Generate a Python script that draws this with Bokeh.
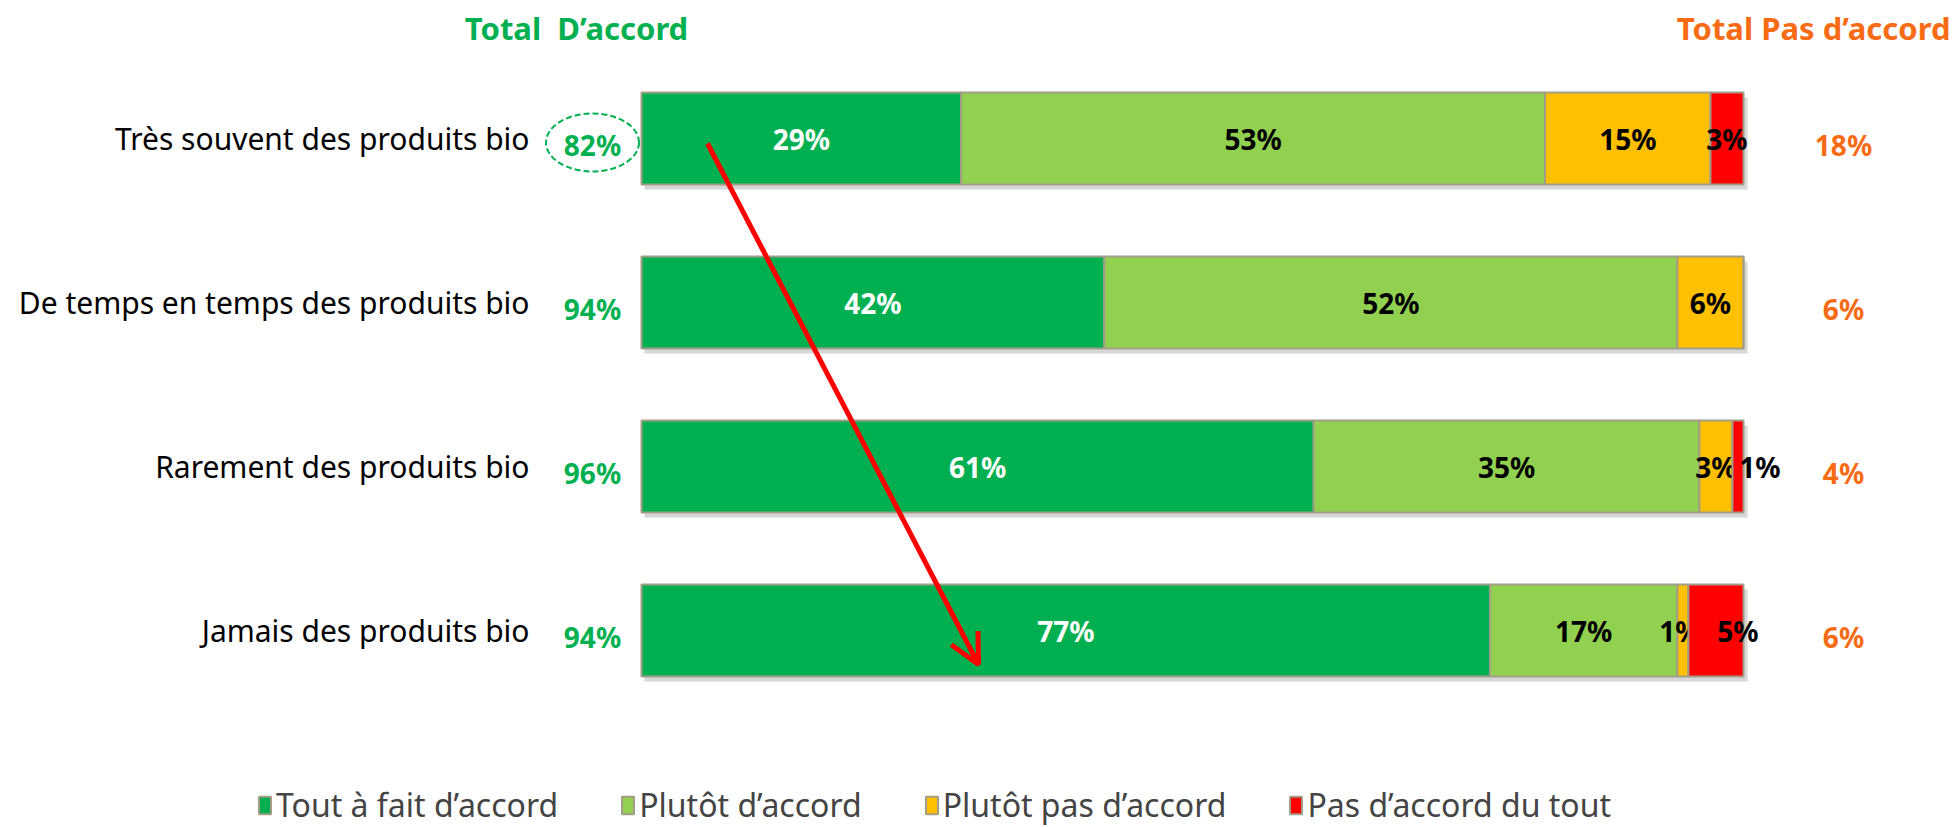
from bokeh.plotting import figure
from bokeh.models import (Range1d, ColumnDataSource, Legend, LegendItem, Arrow, OpenHead)
from bokeh.core.properties import value
from bokeh.embed import file_html
from bokeh.resources import INLINE

# ---------------- data ----------------
categories = ["Très souvent des produits bio",
              "De temps en temps des produits bio",
              "Rarement des produits bio",
              "Jamais des produits bio"]
series_names = ["Tout à fait d’accord", "Plutôt d’accord",
                "Plutôt pas d’accord", "Pas d’accord du tout"]
tout_a_fait = [29, 42, 61, 77]
plutot_accord = [53, 52, 35, 17]
plutot_pas = [15, 6, 3, 1]
pas_du_tout = [3, 0, 1, 5]
total_accord = [82, 94, 96, 94]
total_pas = [18, 6, 4, 6]
header_left = "Total\u00a0\u00a0D’accord"
header_right = "Total Pas d’accord"

# ---------------- layout / style ----------------
W, H = 1952, 826
BAR_X0_PX, BAR_X100_PX = 641, 1743      # canvas px of 0% and 100%
ROW0_PX, ROW_STEP_PX = 138, 164         # canvas px of first row centre, row spacing
FONT = "Noto Sans"
GREEN_TXT = "#00B050"
ORANGE_TXT = "#F96B14"
colors = ["#00B050", "#92D050", "#FFC000", "#FF0000"]
label_colors = ["white", "black", "black", "black"]
BORDER = "#A39D87"

ux = 100.0 / (BAR_X100_PX - BAR_X0_PX)   # data units per px
uy = 1.0 / ROW_STEP_PX
n = len(categories)
x0 = -BAR_X0_PX * ux
x1 = x0 + W * ux
y1 = (n - 1) + ROW0_PX * uy
y0 = y1 - H * uy

def px_x(px):
    return x0 + px * ux

def px_y(py):
    return y1 - py * uy

p = figure(width=W, height=H, x_range=Range1d(x0, x1), y_range=Range1d(y0, y1),
           output_backend="svg", toolbar_location=None, min_border=0,
           x_axis_type=None, y_axis_type=None)
p.grid.visible = False
p.outline_line_color = None

ys = [n - 1 - i for i in range(n)]
BAR_H = 0.56

# shadow
p.hbar(y=[y - 5 * uy for y in ys], left=[3 * ux] * n, right=[100 + 4 * ux] * n,
       height=BAR_H, fill_color="#BDBDBD", fill_alpha=0.6, line_color=None)

series = [tout_a_fait, plutot_accord, plutot_pas, pas_du_tout]
renderers = []
left = [0.0] * n
nudges = {(2, 3): 22, (3, 2): -3, (3, 3): 22}
for k, vals in enumerate(series):
    right = [l + v for l, v in zip(left, vals)]
    src = ColumnDataSource(dict(y=ys, left=left, right=right))
    r = p.hbar(y="y", left="left", right="right", height=BAR_H, source=src,
               fill_color=colors[k], line_color=BORDER, line_width=2)
    renderers.append(r)
    lx, ly, lt, lo = [], [], [], []
    for i, v in enumerate(vals):
        if v > 0:
            lx.append((left[i] + right[i]) / 2)
            ly.append(ys[i])
            lt.append(f"{v}%")
            lo.append(nudges.get((i, k), 0))
    p.text(x="x", y="y", text="t", x_offset="o",
           source=ColumnDataSource(dict(x=lx, y=ly, t=lt, o=lo)),
           text_align="center", text_baseline="middle",
           text_font=value(FONT), text_font_style="bold",
           text_font_size="28px", text_color=label_colors[k])
    left = right

# category labels
p.text(x=[px_x(529)] * n, y=ys, text=categories, text_align="right",
       text_baseline="middle", text_font=value(FONT), text_font_size="30px",
       text_color="black")

# totals
p.text(x=[px_x(592)] * n, y=ys, text=[f"{v}%" for v in total_accord],
       text_align="center", text_baseline="middle", y_offset=6,
       text_font=value(FONT), text_font_style="bold", text_font_size="28px",
       text_color=GREEN_TXT)
p.text(x=[px_x(1843)] * n, y=ys, text=[f"{v}%" for v in total_pas],
       text_align="center", text_baseline="middle", y_offset=6,
       text_font=value(FONT), text_font_style="bold", text_font_size="28px",
       text_color=ORANGE_TXT)

# headers
p.text(x=[px_x(576)], y=[px_y(27)], text=[header_left], text_align="center",
       text_baseline="middle", text_font=value(FONT), text_font_style="bold",
       text_font_size="31px", text_color=GREEN_TXT)
p.text(x=[px_x(1950)], y=[px_y(27)], text=[header_right], text_align="right",
       text_baseline="middle", text_font=value(FONT), text_font_style="bold",
       text_font_size="31px", text_color=ORANGE_TXT)

# dashed ellipse around first total
p.ellipse(x=[px_x(592)], y=[ys[0] - 4 * uy], width=93, height=58,
          width_units="screen", height_units="screen",
          fill_color=None, line_color=GREEN_TXT, line_width=2, line_dash="6 3")

# red arrow
p.add_layout(Arrow(x_start=px_x(707), y_start=px_y(143), x_end=px_x(978), y_end=px_y(664),
                   line_color="#FF0000", line_width=5,
                   end=OpenHead(size=30, line_color="#FF0000", line_width=5)))

legend = Legend(items=[LegendItem(label=series_names[k], renderers=[renderers[k]])
                       for k in range(4)],
                orientation="horizontal", location=(257, 0),
                label_text_font=FONT, label_text_font_size="32px",
                label_height=26, glyph_height=22, glyph_width=15,
                label_standoff=4, spacing=62, padding=0, margin=0,
                background_fill_alpha=0, border_line_alpha=0)
p.add_layout(legend, "center")

open("out.html", "w").write(file_html(p, INLINE))
